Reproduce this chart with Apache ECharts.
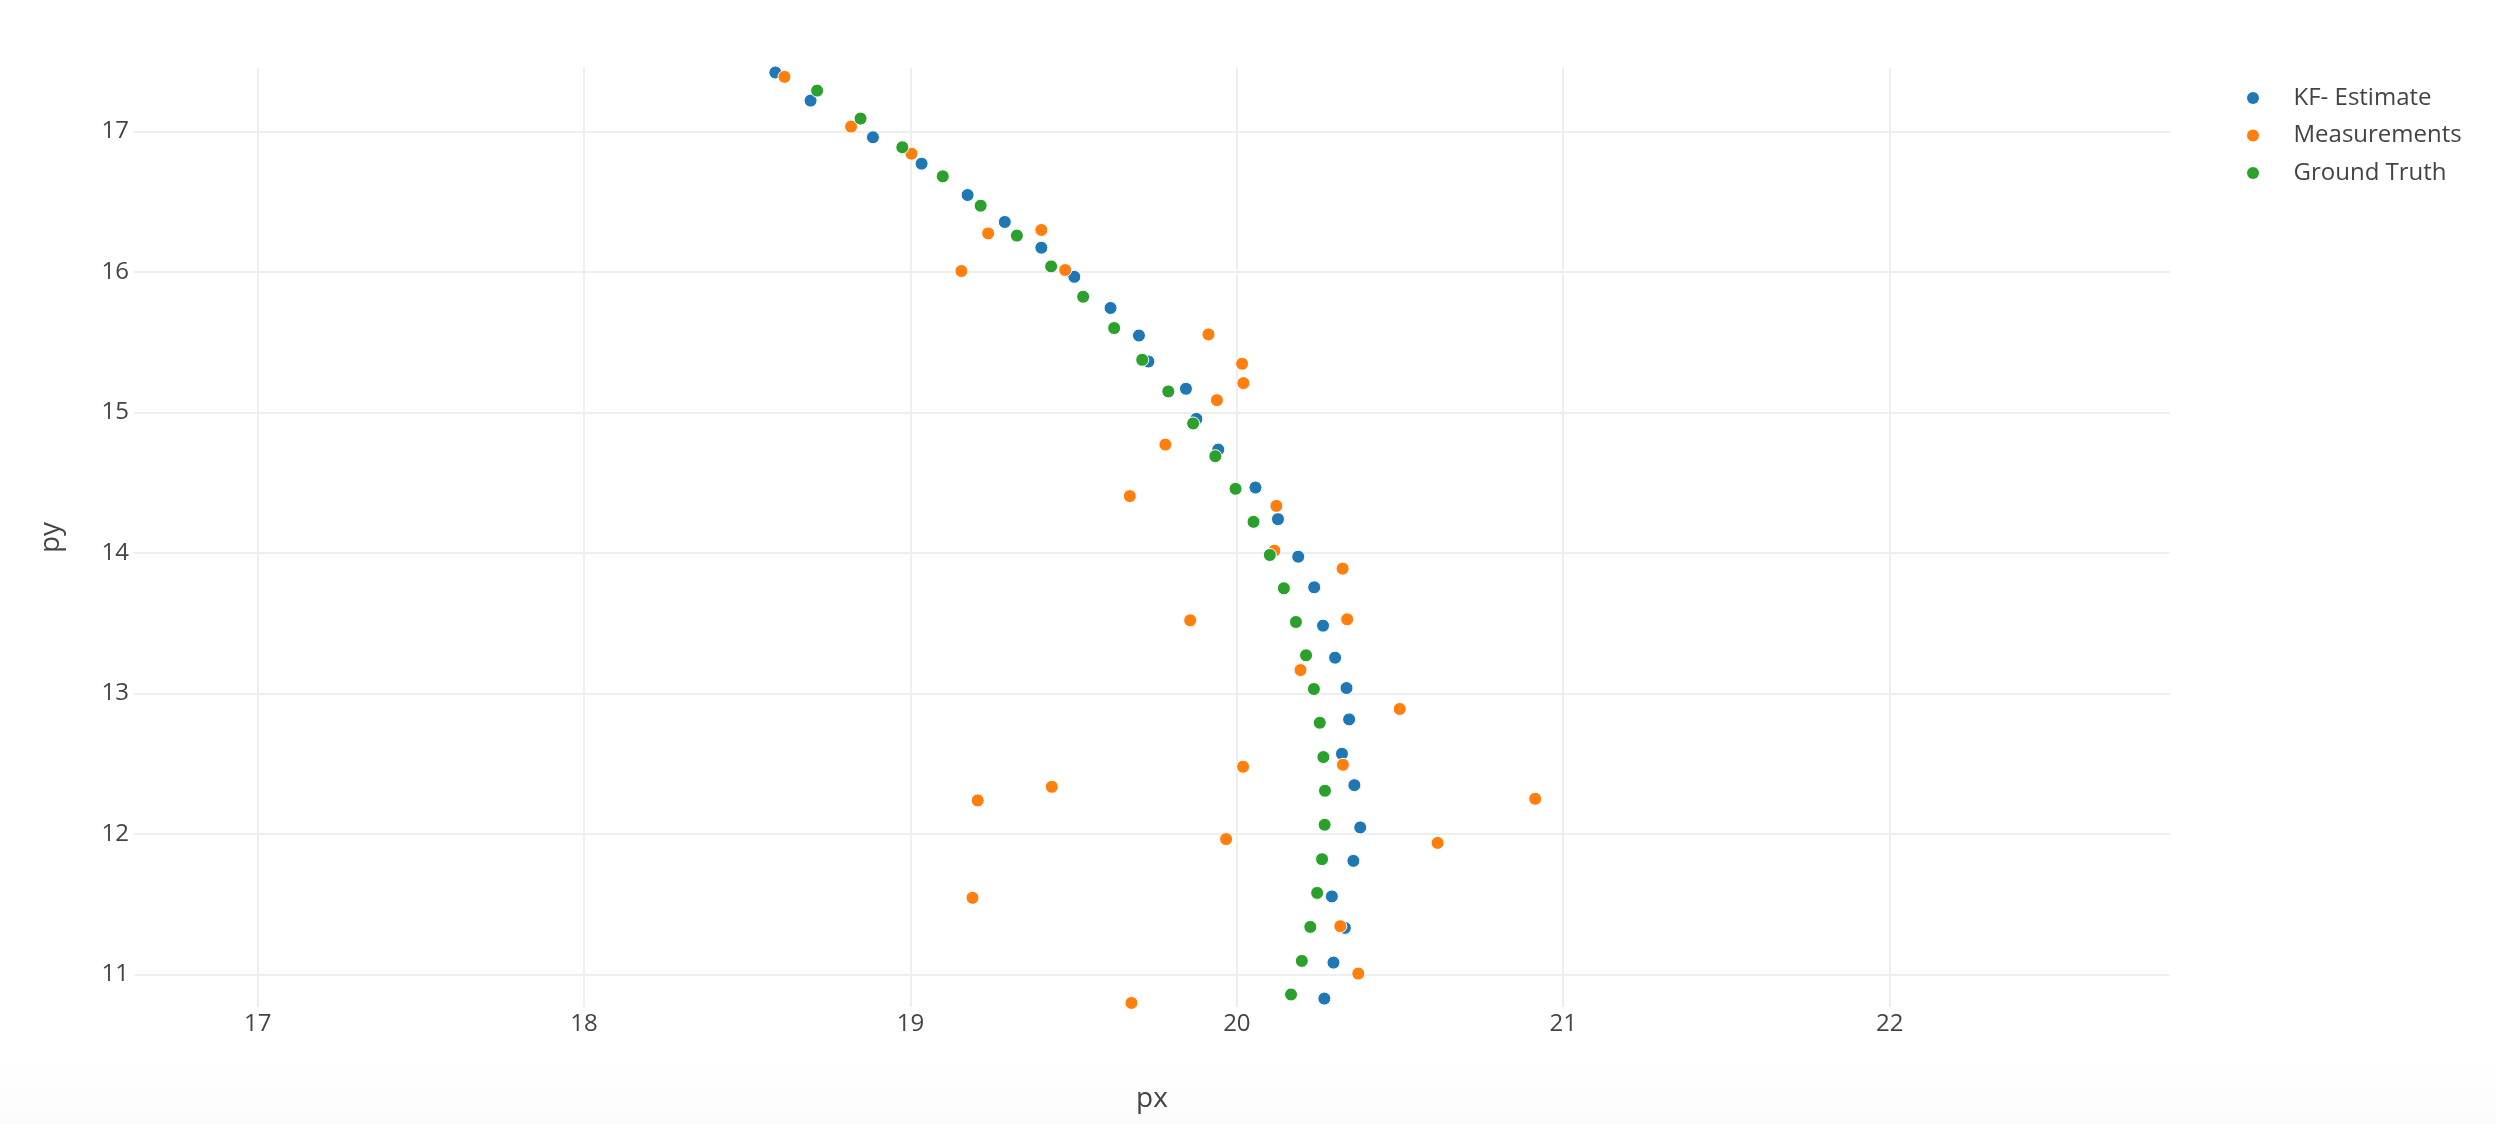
<!DOCTYPE html>
<html><head><meta charset="utf-8">
<script src="https://cdn.jsdelivr.net/npm/echarts@6/dist/echarts.min.js"></script>
<style>html,body{margin:0;padding:0;background:#fff}#c{width:2496px;height:1124px}</style>
</head><body><div id="c"></div>
<script>
const seriesNames = ['KF- Estimate', 'Measurements', 'Ground Truth'];
const seriesColors = ['#1f77b4', '#ff7f0e', '#2ca02c'];

const kfPx = [18.586, 18.694, 18.885, 19.034, 19.175, 19.289, 19.401, 19.502, 19.613, 19.700,
  19.729, 19.844, 19.876, 19.943, 20.057, 20.126, 20.188, 20.237, 20.264, 20.301,
  20.336, 20.344, 20.322, 20.360, 20.378, 20.357, 20.291, 20.331, 20.296, 20.268];
const kfPy = [17.420, 17.220, 16.959, 16.771, 16.548, 16.356, 16.173, 15.966, 15.744, 15.548,
  15.363, 15.169, 14.955, 14.736, 14.466, 14.241, 13.974, 13.756, 13.483, 13.255,
  13.039, 12.816, 12.571, 12.348, 12.047, 11.809, 11.556, 11.332, 11.085, 10.829];

const measPx = [18.270, 18.614, 18.818, 19.003, 19.238, 19.401, 19.156, 19.474, 19.913, 20.016,
  20.020, 19.939, 19.781, 19.672, 20.121, 20.115, 20.324, 19.857, 20.338, 20.195,
  20.499, 20.019, 20.325, 19.433, 19.206, 20.914, 19.967, 20.615, 19.190, 20.317,
  20.372, 19.677];
const measPy = [17.480, 17.389, 17.035, 16.842, 16.275, 16.299, 16.007, 16.014, 15.556, 15.347,
  15.209, 15.088, 14.772, 14.405, 14.335, 14.017, 13.889, 13.521, 13.528, 13.167,
  12.890, 12.479, 12.493, 12.336, 12.239, 12.251, 11.964, 11.937, 11.546, 11.344,
  11.007, 10.798];

const gtPx = [18.578, 18.714, 18.847, 18.975, 19.099, 19.215, 19.326, 19.431, 19.529, 19.624,
  19.710, 19.790, 19.866, 19.934, 19.996, 20.051, 20.101, 20.144, 20.181, 20.212,
  20.236, 20.254, 20.265, 20.270, 20.269, 20.261, 20.246, 20.225, 20.199, 20.166];
const gtPy = [17.470, 17.291, 17.092, 16.888, 16.681, 16.472, 16.259, 16.040, 15.824, 15.601,
  15.375, 15.150, 14.922, 14.689, 14.457, 14.222, 13.986, 13.749, 13.509, 13.272,
  13.032, 12.792, 12.548, 12.308, 12.066, 11.821, 11.581, 11.339, 11.097, 10.858];

const xRange = [16.621, 22.859];
const yRange = [10.769, 17.452];
const axisTitles = ['px', 'py'];

const zip = (xs, ys) => xs.map((v, i) => [v, ys[i]]);
const allData = [zip(kfPx, kfPy), zip(measPx, measPy), zip(gtPx, gtPy)];

const FONT = '"Open Sans", verdana, arial, sans-serif';
const chart = echarts.init(document.getElementById('c'), null, {renderer: 'canvas'});

const axisCommon = {
  type: 'value',
  splitNumber: 5,
  axisLine: {show: false},
  axisTick: {show: false},
  splitLine: {show: true, showMinLine: false, showMaxLine: false, lineStyle: {color: '#eeeeee', width: 2}},
  axisLabel: {color: '#444', fontSize: 24, fontFamily: FONT, margin: 5, showMinLabel: false, showMaxLabel: false},
  nameLocation: 'middle',
  nameTextStyle: {color: '#444', fontSize: 28, fontFamily: FONT}
};

chart.setOption({
  animation: false,
  backgroundColor: '#fff',
  graphic: [{
    type: 'rect', left: 0, top: 1060, z: -10, silent: true,
    shape: {width: 2496, height: 64},
    style: {fill: new echarts.graphic.LinearGradient(0, 0, 0, 1, [
      {offset: 0, color: 'rgba(245,245,245,0)'}, {offset: 1, color: 'rgba(245,245,245,0.35)'}])}
  }],
  grid: {left: 134, right: 326, top: 68, bottom: 117, containLabel: false},
  xAxis: Object.assign({}, axisCommon, {min: xRange[0], max: xRange[1], name: axisTitles[0], nameGap: 78}),
  yAxis: Object.assign({}, axisCommon, {min: yRange[0], max: yRange[1], name: axisTitles[1], nameGap: 69, nameRotate: 90}),
  legend: {
    orient: 'vertical', left: 2247, top: 86, padding: 0,
    itemWidth: 71, itemHeight: 12, itemGap: 13.5, icon: 'circle',
    itemStyle: {borderWidth: 0},
    textStyle: {color: '#444', fontSize: 24, fontFamily: FONT, lineHeight: 24},
    data: seriesNames
  },
  series: seriesNames.map((n, i) => ({
    name: n, type: 'scatter', symbolSize: 13,
    itemStyle: {color: seriesColors[i], borderColor: '#fff', borderWidth: 1, opacity: 1},
    data: allData[i]
  }))
});
</script></body></html>
